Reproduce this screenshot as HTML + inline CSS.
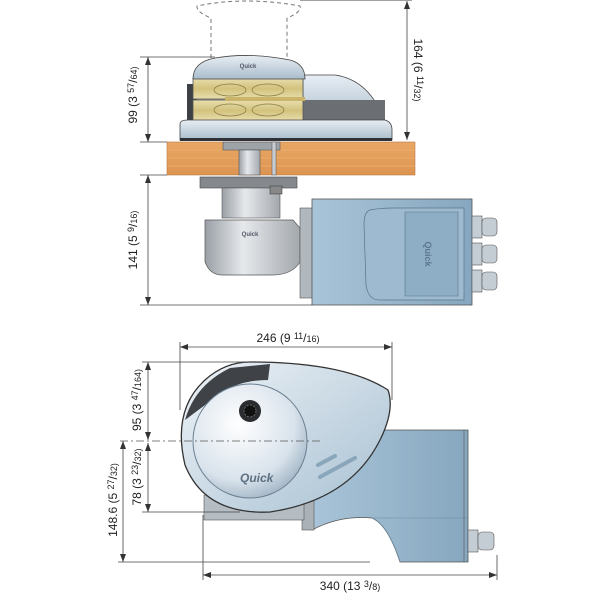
<!DOCTYPE html>
<html><head><style>
html,body{margin:0;padding:0;background:#fff;}
svg{display:block;font-family:"Liberation Sans",sans-serif;}
</style></head><body>
<svg width="600" height="600" viewBox="0 0 600 600" xmlns="http://www.w3.org/2000/svg">
<defs>
<marker id="ar" markerWidth="8" markerHeight="6" refX="8" refY="3" orient="auto-start-reverse" markerUnits="userSpaceOnUse"><path d="M0 0 L8 3 L0 6 Z" fill="#333"/></marker>
<linearGradient id="dome" x1="0" y1="0" x2="0" y2="1"><stop offset="0" stop-color="#e8eef4"/><stop offset="1" stop-color="#a9bccb"/></linearGradient>
<linearGradient id="gold" x1="0" y1="0" x2="0" y2="1"><stop offset="0" stop-color="#e9dfae"/><stop offset="0.5" stop-color="#d2c27d"/><stop offset="1" stop-color="#e9dfae"/></linearGradient>
<linearGradient id="wood" x1="0" y1="0" x2="0" y2="1"><stop offset="0" stop-color="#e9a764"/><stop offset="1" stop-color="#dd9452"/></linearGradient>
<linearGradient id="steel" x1="0" y1="0" x2="1" y2="0"><stop offset="0" stop-color="#9aa0a6"/><stop offset="0.4" stop-color="#e6e9ec"/><stop offset="1" stop-color="#a3a8ad"/></linearGradient>
<linearGradient id="motor" x1="0" y1="0" x2="1" y2="0"><stop offset="0" stop-color="#a9c4d8"/><stop offset="1" stop-color="#86a7bf"/></linearGradient>
<radialGradient id="drum" cx="0.4" cy="0.35" r="0.7"><stop offset="0" stop-color="#ffffff"/><stop offset="0.7" stop-color="#d9e3ec"/><stop offset="1" stop-color="#9fb3c4"/></radialGradient>
<linearGradient id="house" x1="0" y1="0" x2="1" y2="1"><stop offset="0" stop-color="#eef3f7"/><stop offset="1" stop-color="#a7c0d2"/></linearGradient>
</defs>

<!-- ===== TOP VIEW ===== -->
<path d="M211 58 L211 18 Q196 12 197 6 Q245 -4 300 6 Q302 12 287 18 L287 58" fill="none" stroke="#777" stroke-width="1" stroke-dasharray="4,3"/>
<line x1="300" y1="0" x2="412" y2="0" stroke="#444" stroke-width="1"/>
<path d="M303 75 L335 75 Q370 80 385 122 L303 122 Z" fill="url(#dome)" stroke="#444" stroke-width="0.8"/>
<rect x="303" y="100" width="82" height="22" fill="#6b6f73"/>
<rect x="187" y="84" width="10" height="38" fill="#3d4044"/>
<rect x="193" y="78" width="110" height="21" fill="url(#gold)" stroke="#555" stroke-width="0.8"/>
<rect x="193" y="100" width="110" height="21" fill="url(#gold)" stroke="#555" stroke-width="0.8"/>
<rect x="225" y="97" width="80" height="4" fill="#c9b46a"/>
<ellipse cx="230" cy="90" rx="16" ry="6" fill="none" stroke="#8a7a40" stroke-width="0.7"/>
<ellipse cx="268" cy="90" rx="16" ry="6" fill="none" stroke="#8a7a40" stroke-width="0.7"/>
<ellipse cx="230" cy="110" rx="16" ry="6" fill="none" stroke="#8a7a40" stroke-width="0.7"/>
<ellipse cx="268" cy="110" rx="16" ry="6" fill="none" stroke="#8a7a40" stroke-width="0.7"/>
<path d="M193 79 Q193 62 215 58 Q250 52 290 60 Q305 64 305 79 Z" fill="url(#dome)" stroke="#444" stroke-width="0.8"/>
<text x="248" y="68" font-size="6" fill="#556" text-anchor="middle" font-weight="bold">Quick</text>
<path d="M180 124 Q180 120 188 120 L385 120 Q392 122 392 130 L392 140 L180 140 Z" fill="url(#dome)" stroke="#444" stroke-width="0.8"/>
<rect x="180" y="138" width="212" height="3" fill="#2e3135"/>
<rect x="167" y="142" width="248" height="33" fill="url(#wood)" stroke="#b87a45" stroke-width="0.6"/>
<g stroke="#f0bb80" stroke-width="0.5"><line x1="167" y1="150" x2="415" y2="150"/><line x1="167" y1="158" x2="415" y2="158"/><line x1="167" y1="166" x2="415" y2="166"/></g>
<rect x="223" y="142" width="57" height="8" fill="#9ea3a8" stroke="#555" stroke-width="0.6"/>
<rect x="239" y="150" width="21" height="25" fill="url(#steel)" stroke="#555" stroke-width="0.6"/>
<rect x="272" y="142" width="4" height="33" fill="#c8ccd0" stroke="#555" stroke-width="0.5"/>
<rect x="200" y="177" width="97" height="11" fill="#85898e" stroke="#444" stroke-width="0.6"/>
<rect x="222" y="188" width="58" height="30" fill="url(#steel)" stroke="#555" stroke-width="0.6"/>
<rect x="270" y="186" width="12" height="8" fill="#888" stroke="#333" stroke-width="0.5"/>
<path d="M205 220 L293 220 L300 228 L300 262 Q292 275 272 275 L222 275 Q210 275 205 262 Z" fill="url(#steel)" stroke="#555" stroke-width="0.7"/>
<text x="250" y="236" font-size="6" fill="#556" text-anchor="middle" font-weight="bold">Quick</text>
<rect x="300" y="208" width="14" height="90" fill="#b0b7bd" stroke="#555" stroke-width="0.6"/>
<rect x="312" y="199" width="160" height="106" fill="url(#motor)" stroke="#555" stroke-width="0.8"/>
<path d="M370 210 Q380 208 395 208 L464 208 L464 300 L380 300 Q368 300 366 285 L364 225 Q364 212 370 210 Z" fill="#9dbad0" stroke="#5a7488" stroke-width="0.7"/>
<path d="M405 212 L458 212 L458 296 L405 296 Z" fill="#8eaec6" stroke="#5a7488" stroke-width="0.6"/>
<text x="425" y="254" font-size="9" fill="#5c7890" font-weight="bold" transform="rotate(90 425 254)" text-anchor="middle">Quick</text>
<g fill="#c4cdd4" stroke="#555" stroke-width="0.6">
<rect x="472" y="216" width="10" height="22"/><rect x="482" y="218" width="15" height="18" rx="4"/>
<rect x="472" y="243" width="10" height="22"/><rect x="482" y="245" width="15" height="18" rx="4"/>
<rect x="472" y="270" width="10" height="22"/><rect x="482" y="272" width="15" height="18" rx="4"/>
</g>

<g stroke="#444" stroke-width="0.8" fill="none">
<line x1="140" y1="57" x2="215" y2="57"/>
<line x1="140" y1="142" x2="167" y2="142"/>
<line x1="140" y1="175" x2="167" y2="175"/>
<line x1="140" y1="305" x2="312" y2="305"/>
</g>
<g stroke="#444" stroke-width="0.8" fill="none" marker-start="url(#ar)" marker-end="url(#ar)">
<line x1="148" y1="57" x2="148" y2="142"/>
<line x1="148" y1="175" x2="148" y2="305"/>
<line x1="407" y1="1" x2="407" y2="140"/>
</g>
<g font-size="12" fill="#222">
<text transform="translate(137 95) rotate(-90)" text-anchor="middle">99 (3 <tspan font-size="9" dy="-3">57</tspan><tspan dy="3">/</tspan><tspan font-size="9">64)</tspan></text>
<text transform="translate(137 240) rotate(-90)" text-anchor="middle">141 (5 <tspan font-size="9" dy="-3">9</tspan><tspan dy="3">/</tspan><tspan font-size="9">16)</tspan></text>
<text transform="translate(414 70) rotate(90)" text-anchor="middle">164 (6 <tspan font-size="9" dy="-3">11</tspan><tspan dy="3">/</tspan><tspan font-size="9">32)</tspan></text>
</g>

<!-- ===== BOTTOM VIEW ===== -->
<path d="M312 430 L468 430 L468 562 L400 562 Q388 525 372 518 Q340 515 312 530 Z" fill="url(#motor)" stroke="#555" stroke-width="0.8"/>
<path d="M400 562 Q388 525 372 518 L468 518" fill="none" stroke="#6c8aa2" stroke-width="0.6"/>
<line x1="464" y1="430" x2="464" y2="562" stroke="#555" stroke-width="0.6"/>
<rect x="302" y="500" width="12" height="30" fill="#aab2b8" stroke="#555" stroke-width="0.6"/>
<rect x="204" y="495" width="100" height="25" fill="#b5bcc2" stroke="#555" stroke-width="0.6"/>
<g fill="#c4cdd4" stroke="#555" stroke-width="0.6"><rect x="468" y="530" width="10" height="22"/><rect x="478" y="532" width="16" height="18" rx="4"/></g>
<path d="M250 362 Q345 362 388 390 Q395 410 380 440 Q350 500 270 512 Q205 515 185 465 Q172 410 205 380 Q225 362 250 362 Z" fill="url(#house)" stroke="#333" stroke-width="1.3"/>
<path d="M185 420 Q195 385 230 368 L270 364 L268 380 Q230 380 205 405 Z" fill="#3f4246"/>
<circle cx="250" cy="441" r="57" fill="url(#drum)" stroke="#6b7f90" stroke-width="1"/>
<circle cx="250" cy="411" r="11" fill="#2a2c2f"/>
<circle cx="250" cy="411" r="6" fill="#111" stroke="#777" stroke-width="0.8" stroke-dasharray="2,1.5"/>
<text x="240" y="482" font-size="12" fill="#5d7182" font-weight="bold" font-style="italic">Quick</text>
<g stroke="#8aa6bb" stroke-width="4" stroke-linecap="round" fill="none"><line x1="318" y1="465" x2="335" y2="456"/><line x1="320" y1="477" x2="355" y2="458"/></g>
<line x1="120" y1="441" x2="320" y2="441" stroke="#555" stroke-width="0.8" stroke-dasharray="8,3,2,3"/>

<g stroke="#444" stroke-width="0.8" fill="none">
<line x1="180" y1="342" x2="180" y2="410"/><line x1="392" y1="342" x2="392" y2="400"/>
<line x1="142" y1="362" x2="250" y2="362"/>
<line x1="142" y1="512" x2="240" y2="512"/>
<line x1="118" y1="562" x2="370" y2="562"/>
<line x1="203" y1="515" x2="203" y2="580"/><line x1="497" y1="555" x2="497" y2="580"/>
</g>
<g stroke="#444" stroke-width="0.8" fill="none" marker-start="url(#ar)" marker-end="url(#ar)">
<line x1="180" y1="347" x2="392" y2="347"/>
<line x1="148" y1="362" x2="148" y2="440"/><line x1="148" y1="443" x2="148" y2="512"/>
<line x1="123" y1="441" x2="123" y2="562"/>
<line x1="203" y1="575" x2="497" y2="575"/>
</g>
<g font-size="12" fill="#222">
<text x="288" y="342" text-anchor="middle">246 (9 <tspan font-size="9" dy="-3">11</tspan><tspan dy="3">/</tspan><tspan font-size="9">16)</tspan></text>
<text transform="translate(141 400) rotate(-90)" text-anchor="middle">95 (3 <tspan font-size="9" dy="-3">47</tspan><tspan dy="3">/</tspan><tspan font-size="9">164)</tspan></text>
<text transform="translate(141 477) rotate(-90)" text-anchor="middle">78 (3 <tspan font-size="9" dy="-3">23</tspan><tspan dy="3">/</tspan><tspan font-size="9">32)</tspan></text>
<text transform="translate(117 500) rotate(-90)" text-anchor="middle">148.6 (5 <tspan font-size="9" dy="-3">27</tspan><tspan dy="3">/</tspan><tspan font-size="9">32)</tspan></text>
<text x="350" y="590" text-anchor="middle">340 (13 <tspan font-size="9" dy="-3">3</tspan><tspan dy="3">/</tspan><tspan font-size="9">8)</tspan></text>
</g>
</svg>
</body></html>
